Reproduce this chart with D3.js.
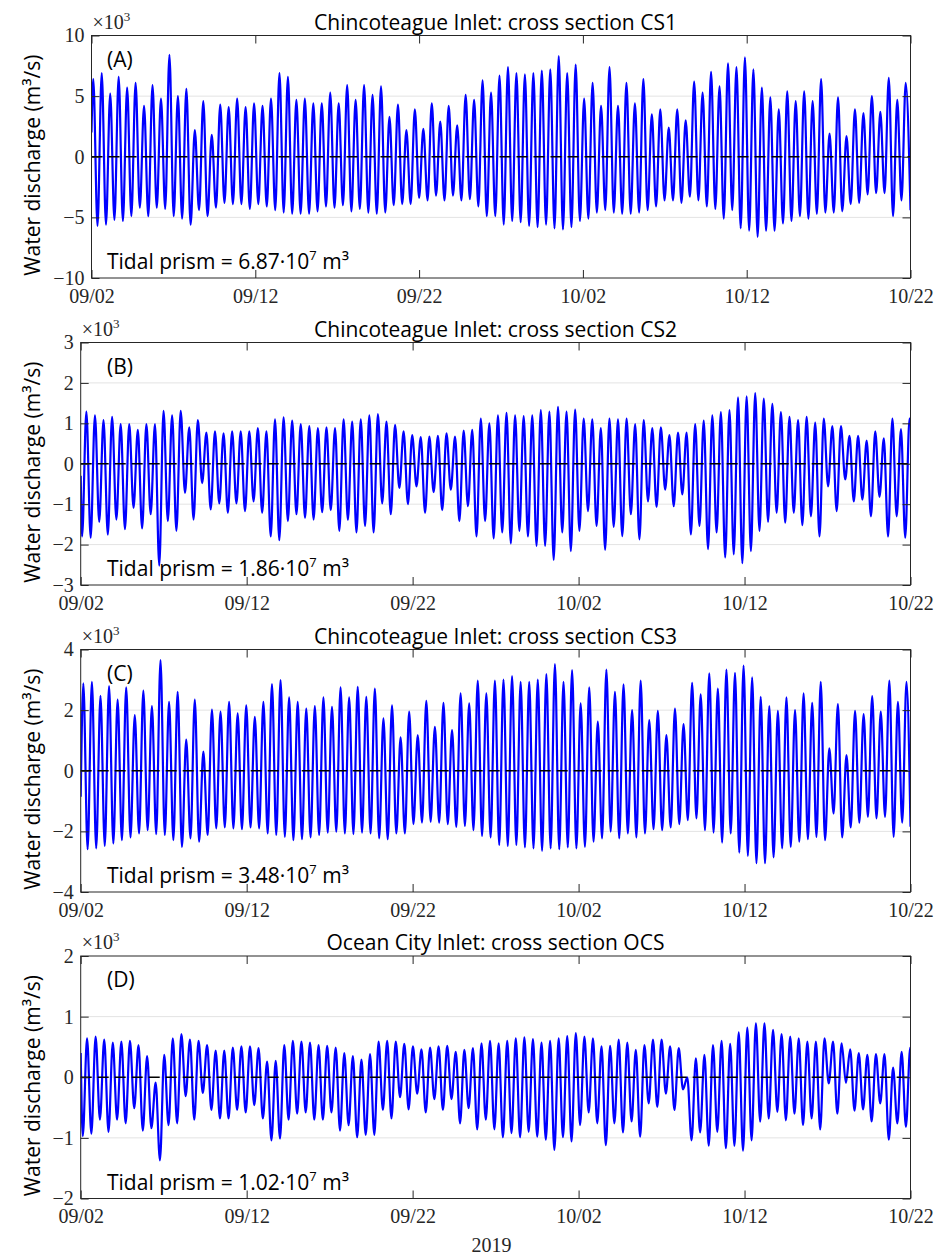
<!DOCTYPE html>
<html>
<head>
<meta charset="utf-8">
<script src="https://cdn.jsdelivr.net/npm/d3@7"></script>
<style>
  body { margin: 0; background: #fff; }
  svg { display: block; }
</style>
</head>
<body>
<svg width="943" height="1257"></svg>
<script>
// ---- data (discharge in 10^3 m3/s) ----
var titles = ["Chincoteague Inlet: cross section CS1", "Chincoteague Inlet: cross section CS2",
              "Chincoteague Inlet: cross section CS3", "Ocean City Inlet: cross section OCS"];
var letters = ["(A)", "(B)", "(C)", "(D)"];
var prisms = ["6.87", "1.86", "3.48", "1.02"];
var yTicks = [[-10, -5, 0, 5, 10], [-3, -2, -1, 0, 1, 2, 3], [-4, -2, 0, 2, 4], [-2, -1, 0, 1, 2]];
var dateTicks = ["2019-09-02", "2019-09-12", "2019-09-22", "2019-10-02", "2019-10-12", "2019-10-22"];

// successive flood peaks and ebb troughs, one per half tidal cycle
var cs1Peaks = [6.4, 6.9, 5.2, 6.6, 5.7, 6.1, 4.2, 5.9, 4.8, 8.4, 5.0, 5.6, 2.2, 4.6, 1.8, 4.3, 4.1, 4.8, 4.1, 4.4, 4.2, 4.8, 6.9, 6.6, 4.7, 4.8, 4.4,
  4.4, 5.3, 4.4, 5.9, 4.7, 5.9, 5.1, 5.8, 3.3, 4.3, 2.2, 3.9, 2.3, 4.4, 2.9, 4.2, 2.6, 5.1, 4.7, 6.3, 5.3, 6.7, 7.4, 6.9, 6.8, 6.9, 7.1, 7.2, 8.3, 6.9, 7.6, 4.8, 6.1, 4.2, 7.4, 4.2,
  6.1, 4.4, 6.4, 3.5, 3.9, 2.4, 3.9, 3.0, 6.2, 5.3, 7.0, 5.8, 7.7, 7.4, 8.2, 7.2, 5.7, 4.9, 3.9, 5.4, 4.6, 5.4, 4.6, 6.4, 1.9, 4.9, 1.7, 3.9, 3.6, 5.0, 3.7, 6.5, 4.7, 6.1];
var cs1Troughs = [-5.7, -5.6, -5.2, -5.3, -4.9, -4.2, -4.9, -4.2, -4.3, -4.9, -5.1, -5.6, -4.4, -4.9, -4.2, -3.8, -3.9, -3.9, -4.3, -3.9, -4.1, -4.4, -4.6, -4.7, -4.7, -4.7, -4.5,
  -4.1, -4.2, -4.0, -4.5, -4.3, -4.6, -4.7, -4.6, -4.0, -3.9, -3.9, -3.4, -3.6, -3.2, -3.6, -3.2, -3.6, -3.5, -4.1, -4.9, -4.9, -5.6, -5.3, -5.4, -5.7, -5.8, -5.6, -5.9, -6.0, -5.8, -5.3, -5.1, -4.6, -4.4, -4.6, -4.7,
  -4.7, -4.6, -4.4, -4.1, -3.6, -3.6, -3.8, -3.3, -3.6, -4.1, -4.3, -5.1, -4.4, -5.9, -6.1, -6.6, -6.1, -6.1, -5.5, -5.3, -4.9, -5.1, -4.7, -4.6, -4.6, -4.5, -3.9, -3.8, -3.1, -3.0, -3.0, -4.9, -3.6];
var cs1Edges = [2.0, -4.4];

var cs2Peaks = [1.29, 1.2, 1.08, 1.16, 0.98, 0.98, 0.84, 0.98, 0.98, 1.31, 1.2, 1.31, 0.9, 1.08, 0.77, 0.8, 0.75, 0.8, 0.8, 0.8, 0.88, 0.8, 1.1, 1.15, 1.07, 0.98, 0.93, 0.88, 0.9,
  0.88, 1.1, 1.04, 1.1, 1.2, 1.23, 1.04, 0.96, 0.8, 0.71, 0.66, 0.67, 0.69, 0.75, 0.67, 0.82, 0.84, 1.12, 1.0, 1.2, 1.26, 1.2, 1.18, 1.2, 1.33, 1.29, 1.41, 1.29, 1.34, 1.12, 1.1, 0.88, 1.12, 1.1, 1.12,
  0.98, 1.08, 0.88, 0.9, 0.71, 0.77, 0.77, 0.98, 1.07, 1.2, 1.28, 1.33, 1.64, 1.67, 1.75, 1.61, 1.48, 1.28, 1.16, 1.08, 1.16, 1.02, 1.12, 0.93, 0.93, 0.69, 0.69, 0.57, 0.8, 0.63, 1.12, 0.86, 1.12];
var cs2Troughs = [-1.8, -1.83, -1.44, -1.75, -1.38, -1.62, -1.09, -1.6, -1.25, -2.52, -1.42, -1.66, -0.72, -1.38, -0.48, -1.13, -0.98, -1.21, -0.98, -1.17, -0.93, -1.21, -1.8, -1.89, -1.42, -1.25, -1.34, -1.38, -1.2,
  -1.15, -1.66, -1.39, -1.7, -1.54, -1.7, -0.98, -1.25, -0.6, -1.0, -0.56, -1.21, -0.7, -1.15, -0.64, -1.42, -1.05, -1.8, -1.42, -1.85, -1.7, -1.97, -1.66, -1.8, -2.03, -2.03, -2.38, -1.7, -2.16, -1.66, -1.17, -1.54, -2.13, -1.56, -1.79,
  -1.25, -1.87, -0.93, -1.07, -0.64, -1.05, -0.76, -1.75, -1.54, -2.11, -1.7, -2.32, -2.24, -2.46, -2.16, -1.66, -1.44, -1.21, -1.46, -1.21, -1.52, -1.3, -1.8, -0.56, -1.17, -0.39, -0.93, -0.89, -1.3, -0.82, -1.8, -1.3, -1.83];
var cs2Edges = [-0.3, 1.1];

var cs3Peaks = [2.88, 2.93, 2.47, 2.79, 2.35, 2.75, 1.84, 2.64, 2.13, 3.65, 2.27, 2.6, 1.03, 2.35, 0.63, 2.02, 1.95, 2.27, 1.89, 2.16, 1.78, 2.27, 2.86, 2.99, 2.42, 2.27, 2.05, 2.13, 2.42,
  2.11, 2.75, 2.42, 2.77, 2.44, 2.71, 1.73, 2.16, 1.1, 1.95, 1.18, 2.31, 1.45, 2.24, 1.34, 2.55, 2.22, 2.97, 2.55, 2.97, 3.01, 3.12, 2.93, 2.93, 3.01, 3.19, 3.52, 2.93, 3.32, 2.22, 2.75, 1.62, 3.34, 2.6, 2.85,
  2.0, 2.97, 1.67, 1.98, 1.18, 2.05, 1.54, 2.9, 2.52, 3.21, 2.71, 3.34, 3.23, 3.47, 3.08, 2.44, 2.13, 1.98, 2.42, 2.0, 2.55, 2.24, 2.93, 0.74, 2.2, 0.52, 1.98, 1.87, 2.46, 1.95, 2.97, 2.27, 2.93];
var cs3Troughs = [-2.59, -2.56, -2.48, -2.4, -2.29, -2.2, -2.07, -1.96, -2.09, -2.12, -2.29, -2.51, -2.23, -2.34, -2.12, -1.9, -1.87, -1.9, -1.93, -1.87, -1.9, -2.07, -2.12, -2.18, -2.29, -2.26, -2.2, -2.12, -2.04,
  -2.01, -2.07, -2.09, -2.04, -2.07, -2.23, -2.26, -2.07, -2.07, -1.76, -1.71, -1.68, -1.71, -1.76, -1.85, -1.82, -1.96, -2.15, -2.2, -2.45, -2.48, -2.45, -2.53, -2.56, -2.64, -2.56, -2.59, -2.53, -2.56, -2.51, -2.34, -2.23, -2.01, -2.23, -2.07,
  -2.2, -2.07, -1.93, -1.96, -1.87, -1.76, -1.63, -1.57, -1.96, -2.04, -2.37, -2.07, -2.7, -2.81, -3.05, -3.05, -2.86, -2.56, -2.51, -2.34, -2.26, -2.18, -2.29, -1.41, -2.2, -1.87, -1.71, -1.52, -1.57, -1.52, -2.18, -1.71];
var cs3Edges = [-0.86, -1.85];

var ocsPeaks = [0.64, 0.67, 0.62, 0.57, 0.59, 0.6, 0.53, 0.35, -0.09, 0.37, 0.64, 0.71, 0.62, 0.6, 0.53, 0.44, 0.44, 0.49, 0.51, 0.51, 0.48, 0.26, 0.27, 0.53, 0.6, 0.59, 0.57, 0.53, 0.52,
  0.49, 0.4, 0.35, 0.29, 0.38, 0.59, 0.6, 0.59, 0.55, 0.51, 0.46, 0.49, 0.51, 0.52, 0.42, 0.45, 0.48, 0.56, 0.6, 0.56, 0.6, 0.64, 0.66, 0.63, 0.57, 0.6, 0.64, 0.68, 0.73, 0.67, 0.64, 0.51, 0.52, 0.62, 0.57,
  0.45, 0.53, 0.62, 0.62, 0.51, 0.48, 0.0, 0.31, 0.37, 0.53, 0.6, 0.55, 0.74, 0.82, 0.89, 0.89, 0.78, 0.71, 0.67, 0.64, 0.59, 0.59, 0.64, 0.59, 0.56, 0.46, 0.4, 0.37, 0.38, 0.38, 0.16, 0.42, 0.49];
var ocsTroughs = [-0.97, -0.93, -0.7, -0.9, -0.7, -0.76, -0.51, -0.88, -0.84, -1.37, -0.79, -0.76, -0.31, -0.7, -0.26, -0.54, -0.68, -0.68, -0.54, -0.58, -0.46, -0.68, -1.04, -1.01, -0.7, -0.6, -0.58, -0.7, -0.7,
  -0.58, -0.88, -0.79, -0.99, -0.95, -0.95, -0.54, -0.68, -0.33, -0.53, -0.27, -0.58, -0.36, -0.54, -0.36, -0.76, -0.51, -0.86, -0.7, -0.86, -0.99, -0.92, -0.99, -0.9, -0.98, -1.03, -1.2, -0.99, -1.06, -0.79, -0.58, -0.76, -1.12, -0.76, -0.91,
  -0.73, -0.98, -0.43, -0.49, -0.27, -0.54, -0.2, -1.04, -0.91, -1.13, -0.9, -1.17, -1.13, -1.21, -1.04, -0.73, -0.68, -0.57, -0.71, -0.6, -0.79, -0.68, -0.86, -0.1, -0.6, -0.09, -0.55, -0.53, -0.73, -0.43, -1.03, -0.76, -0.82];
var ocsEdges = [0.4, 0.49];

// hour (from 09/02 00:00) of the first extreme, and which one comes first
var firstHour = [2.6, 2.0, 3.8, 3.0];
var peakFirst = [true, false, true, false];
var HALF_TIDE = 6.2; // hours between a peak and the next trough
var SPAN_H = 1200;   // 50 days

var series = [
  {peaks: cs1Peaks, troughs: cs1Troughs, edges: cs1Edges},
  {peaks: cs2Peaks, troughs: cs2Troughs, edges: cs2Edges},
  {peaks: cs3Peaks, troughs: cs3Troughs, edges: cs3Edges},
  {peaks: ocsPeaks, troughs: ocsTroughs, edges: ocsEdges}
];

// ---- layout ----
var svg = d3.select("svg");
var RIGHT = 910.5, H = 242.5;
var boxes = [{left: 91.5, top: 35.5}, {left: 80.7, top: 342.5}, {left: 80.7, top: 649.5}, {left: 80.7, top: 956}];
var sans = "'Open Sans', sans-serif", serif = "'Liberation Serif', serif";
var t0 = Date.UTC(2019, 8, 2);
var xDomain = [new Date(t0), new Date(t0 + SPAN_H * 3600e3)];
var tickDates = dateTicks.map(function (s) { return new Date(s + "T00:00:00Z"); });

function buildPoints(s, k) {
  var a = peakFirst[k] ? s.peaks : s.troughs, b = peakFirst[k] ? s.troughs : s.peaks;
  var ext = [];
  for (var i = 0; i < a.length; i++) {
    ext.push(a[i]);
    if (i < b.length) ext.push(b[i]);
  }
  var pts = [{h: 0, v: s.edges[0]}];
  ext.forEach(function (v, i) {
    var h = firstHour[k] + i * HALF_TIDE;
    if (h < SPAN_H) pts.push({h: h, v: v});
  });
  pts.push({h: SPAN_H, v: s.edges[1]});
  return pts;
}

boxes.forEach(function (box, k) {
  var x = d3.scaleUtc().domain(xDomain).range([box.left, RIGHT]);
  var dom = d3.extent(yTicks[k]);
  var y = d3.scaleLinear().domain(dom).range([box.top + H, box.top]);
  var g = svg.append("g");

  // horizontal grid
  g.selectAll(".grid").data(yTicks[k].filter(function (d) { return d !== dom[0] && d !== dom[1]; }))
    .enter().append("line")
    .attr("x1", box.left).attr("x2", RIGHT)
    .attr("y1", function (d) { return y(d); }).attr("y2", function (d) { return y(d); })
    .attr("stroke", "#e3e3e3").attr("stroke-width", 1);

  svg.append("clipPath").attr("id", "clip" + k).append("rect")
    .attr("x", box.left).attr("y", box.top).attr("width", RIGHT - box.left).attr("height", H);

  var line = d3.line()
    .x(function (d) { return x(new Date(t0 + d.h * 3600e3)); })
    .y(function (d) { return y(d.v); })
    .curve(d3.curveMonotoneX);

  g.append("path").datum(buildPoints(series[k], k))
    .attr("clip-path", "url(#clip" + k + ")")
    .attr("d", line)
    .attr("fill", "none").attr("stroke", "#0000ff").attr("stroke-width", 2.2)
    .attr("stroke-linejoin", "round");

  // zero line
  g.append("line")
    .attr("x1", box.left).attr("x2", RIGHT).attr("y1", y(0)).attr("y2", y(0))
    .attr("stroke", "#000").attr("stroke-width", 1.5).attr("stroke-dasharray", "11,6");

  // axes (ticks inward, MATLAB box)
  var axB = g.append("g").attr("transform", "translate(0," + (box.top + H) + ")")
    .call(d3.axisBottom(x).tickValues(tickDates).tickFormat(d3.utcFormat("%m/%d"))
      .tickSizeInner(-8).tickSizeOuter(0).tickPadding(10.5));
  var axT = g.append("g").attr("transform", "translate(0," + box.top + ")")
    .call(d3.axisTop(x).tickValues(tickDates).tickFormat("").tickSizeInner(-8).tickSizeOuter(0));
  var axL = g.append("g").attr("transform", "translate(" + box.left + ",0)")
    .call(d3.axisLeft(y).tickValues(yTicks[k]).tickFormat(d3.format("d"))
      .tickSizeInner(-8).tickSizeOuter(0).tickPadding(7));
  var axR = g.append("g").attr("transform", "translate(" + RIGHT + ",0)")
    .call(d3.axisRight(y).tickValues(yTicks[k]).tickFormat("").tickSizeInner(-8).tickSizeOuter(0));
  [axB, axT, axL, axR].forEach(function (a) {
    a.attr("color", "#262626").attr("font-family", serif).attr("font-size", 20);
    a.select(".domain").remove();
    a.selectAll("line").attr("stroke-width", 1);
  });

  g.append("rect")
    .attr("x", box.left).attr("y", box.top).attr("width", RIGHT - box.left).attr("height", H)
    .attr("fill", "none").attr("stroke", "#262626").attr("stroke-width", 1);

  // exponent marker
  var ex = g.append("text").attr("x", box.left + 1).attr("y", box.top - 7)
    .attr("font-family", serif).attr("font-size", 20).attr("fill", "#262626").text("\u00d710");
  ex.append("tspan").attr("font-size", 13).attr("dy", -8).text("3");

  // title
  g.append("text").attr("x", 495.5).attr("y", box.top - 6).attr("text-anchor", "middle")
    .attr("font-family", sans).attr("font-size", 21).attr("fill", "#000").text(titles[k]);

  // panel letter
  g.append("text").attr("x", 107).attr("y", box.top + 31)
    .attr("font-family", sans).attr("font-size", 21).attr("fill", "#000").text(letters[k]);

  // tidal prism
  var tp = g.append("text").attr("x", 107).attr("y", box.top + H - 9)
    .attr("font-family", sans).attr("font-size", 21).attr("fill", "#000")
    .text("Tidal prism = " + prisms[k] + "\u00b710");
  tp.append("tspan").attr("font-size", 13).attr("dy", -9).text("7");
  tp.append("tspan").attr("dy", 9).text(" m\u00b3");

  // y label
  g.append("text")
    .attr("transform", "translate(40," + (box.top + H / 2 + 8.5) + ") rotate(-90)")
    .attr("text-anchor", "middle")
    .attr("font-family", sans).attr("font-size", 21).attr("fill", "#000")
    .text("Water discharge (m\u00b3/s)");
});

svg.append("text").attr("x", 491.5).attr("y", 1252).attr("text-anchor", "middle")
  .attr("font-family", serif).attr("font-size", 20).attr("fill", "#262626").text("2019");
</script>
</body>
</html>
